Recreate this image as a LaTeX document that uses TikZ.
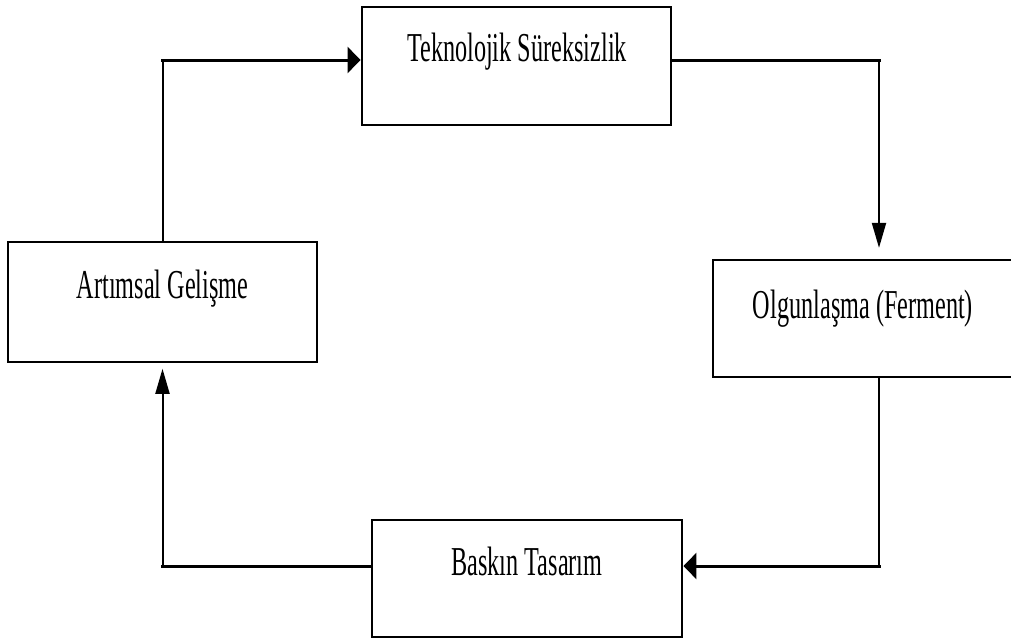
\documentclass[tikz,border=0pt]{standalone}
\usepackage{fontspec}
\setmainfont{Liberation Serif}[FakeStretch=0.59]
\usetikzlibrary{arrows.meta}

\tikzset{
  stage/.style={draw=black, line width=2.2pt, fill=white, inner sep=0pt},
  caption/.style={inner sep=0pt, anchor=base, text=black,
    font=\fontsize{30.8pt}{36pt}\selectfont},
  hlink/.style={draw=black, line width=2.25pt, line cap=rect},
  vlink/.style={draw=black, line width=1.5pt, line cap=rect},
  htip/.style={-{Triangle[length=9.75pt, width=19.5pt]}},
  vtip/.style={-{Triangle[length=18.75pt, width=10.5pt]}}
}

\begin{document}
\begin{tikzpicture}[x=0.75pt, y=-0.75pt]
  % page frame
  \useasboundingbox (0,0) rectangle (1011,639);
  \fill[white] (0,0) rectangle (1011,639);
  \clip (0,0) rectangle (1011,639);

  % the four stages of the cycle
  \node[stage, minimum width=309*0.75pt, minimum height=118*0.75pt] (T) at (516.5,66) {};
  \node[stage, minimum width=309*0.75pt, minimum height=120*0.75pt] (A) at (162.5,302) {};
  \node[stage, minimum width=303*0.75pt, minimum height=117*0.75pt] (O) at (864.5,318.5) {};
  \node[stage, minimum width=310*0.75pt, minimum height=117*0.75pt] (B) at (527,578.5) {};

  \node[caption] (tT) at (517,61.7)  {Teknolojik Süreksizlik};
  \node[caption] (tA) at (162.5,298.3) {Artımsal Gelişme};
  \node[caption] (tO) at (863,318.3) {Olgunlaşma (Ferment)};
  \node[caption] (tB) at (527,575)   {Baskın Tasarım};

  % corner points of the connectors
  \coordinate (k1) at (162.5,60);
  \coordinate (k2) at (879,60);
  \coordinate (k3) at (879,566);
  \coordinate (k4) at (162.5,566.5);

  % Artımsal Gelişme -> Teknolojik Süreksizlik
  \draw[vlink] (A.north) -- (k1);
  \draw[hlink, htip] (k1) -- (T.west |- k1);

  % Teknolojik Süreksizlik -> Olgunlaşma
  \draw[hlink] (T.east |- k2) -- (k2);
  \draw[vlink, vtip, shorten >=8pt] (k2) -- (O.north -| k2);

  % Olgunlaşma -> Baskın Tasarım
  \draw[vlink, line width=1.3pt] (O.south -| k3) -- (k3);
  \draw[hlink, htip] (k3) -- (B.east |- k3);

  % Baskın Tasarım -> Artımsal Gelişme
  \draw[hlink] (B.west |- k4) -- (k4);
  \draw[vlink, vtip, shorten >=4pt] (k4) -- (A.south);
\end{tikzpicture}
\end{document}
